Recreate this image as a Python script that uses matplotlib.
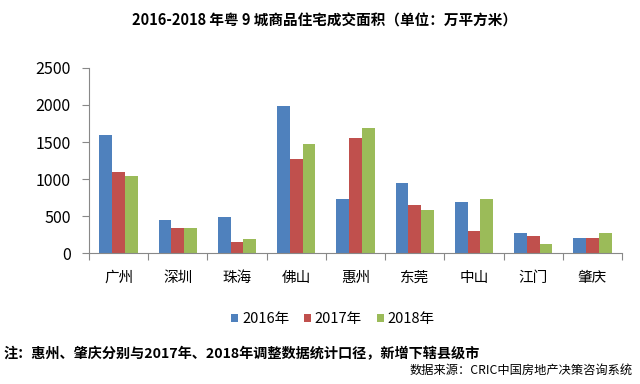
import numpy as np
import matplotlib
matplotlib.use("Agg")
import matplotlib.pyplot as plt

plt.rcParams['font.family'] = ['Noto Sans CJK SC', 'DejaVu Sans']

cities = ["广州", "深圳", "珠海", "佛山", "惠州", "东莞", "中山", "江门", "肇庆"]
years = ["2016年", "2017年", "2018年"]
v2016 = [1600, 450, 490, 1990, 735, 950, 695, 275, 207]
v2017 = [1100, 338, 150, 1275, 1557, 653, 302, 234, 207]
v2018 = [1045, 338, 195, 1476, 1692, 585, 734, 126, 275]
colors = ["#4F81BD", "#C0504D", "#9BBB59"]

fig = plt.figure(figsize=(6.4, 3.84), dpi=100)
ax = fig.add_axes([0.139, 0.341, 0.833, 0.482])

x = np.arange(len(cities))
w = 0.215
for i, (vals, lab) in enumerate(zip([v2016, v2017, v2018], years)):
    ax.bar(x + (i - 1) * w, vals, width=w, color=colors[i], label=lab)

ax.set_xlim(-0.5, len(cities) - 0.5)
ax.set_ylim(0, 2500)
ax.set_yticks(range(0, 2501, 500))
ax.set_xticks(np.arange(-0.5, len(cities), 1.0))
ax.set_xticklabels([])
ax.set_xticks(x, minor=True)
ax.set_xticklabels(cities, minor=True, fontsize=10.5)
ax.tick_params(axis='x', which='minor', length=0, pad=13)
ax.tick_params(axis='x', which='major', length=5, color='#888888', direction='out')
ax.tick_params(axis='y', length=5, color='#888888', labelsize=11.5, pad=8)

for s in ["top", "right"]:
    ax.spines[s].set_visible(False)
for s in ["left", "bottom"]:
    ax.spines[s].set_color("#888888")

fig.text(325 / 640, 1 - 21 / 384, "2016-2018 年粤 9 城商品住宅成交面积（单位：万平方米）",
         ha='center', va='center', fontsize=10.5, fontweight='bold')

fig.legend(loc='center', bbox_to_anchor=(333 / 640, 1 - 319 / 384), ncol=3, frameon=False,
           fontsize=10.5, handlelength=0.5, handleheight=0.5, handletextpad=0.25,
           columnspacing=1.0)

fig.text(3 / 640, 1 - 354 / 384, "注：惠州、肇庆分别与2017年、2018年调整数据统计口径，新增下辖县级市",
         ha='left', va='center', fontsize=10.2, fontweight='bold')
fig.text(633 / 640, 1 - 370 / 384, "数据来源：CRIC中国房地产决策咨询系统",
         ha='right', va='center', fontsize=8.8)

fig.savefig("out.png", dpi=100)
